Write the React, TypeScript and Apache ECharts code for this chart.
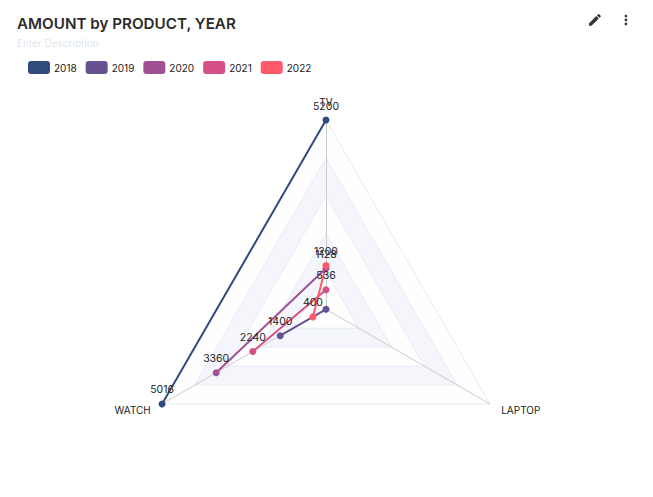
import React, { useEffect, useRef } from "react";
import * as echarts from "echarts";

const title = "AMOUNT by PRODUCT, YEAR";
const description = "Enter Description";
const indicators = ["TV", "WATCH", "LAPTOP"];
const indicatorMax = [5200, 5016, 5200];
const years = ["2018", "2019", "2020", "2021", "2022"];
const colors = ["#2f4b7c", "#665191", "#a05195", "#d45087", "#ff5a6a"];
const v2018 = [5200, 5016];
const v2019 = [0, 1400];
const v2020 = [1128, 3360];
const v2021 = [536, 2240];
const v2022 = [1200, 400];
const yearValues = [v2018, v2019, v2020, v2021, v2022];

const pencil = "M3 17.25V21h3.75L17.81 9.94l-3.75-3.75L3 17.25zM20.71 7.04c.39-.39.39-1.02 0-1.41l-2.34-2.34c-.39-.39-1.02-.39-1.41 0l-1.83 1.83 3.75 3.75 1.83-1.83z";
const dots = "M12 8c1.1 0 2-.9 2-2s-.9-2-2-2-2 .9-2 2 .9 2 2 2zm0 2c-1.1 0-2 .9-2 2s.9 2 2 2 2-.9 2-2-.9-2-2-2zm0 6c-1.1 0-2 .9-2 2s.9 2 2 2 2-.9 2-2-.9-2-2-2z";
echarts.graphic.registerShape("pencilIcon", echarts.graphic.extendPath(pencil as any, {}) as any);
echarts.graphic.registerShape("dotsIcon", echarts.graphic.extendPath(dots as any, {}) as any);

const font = "Inter, sans-serif";

export default function App() {
  const ref = useRef<HTMLDivElement>(null);
  useEffect(() => {
    const chart = echarts.init(ref.current!, null, { renderer: "svg" });
    chart.setOption({
      animation: false,
      title: {
        text: title,
        left: 17,
        top: 16,
        padding: 0,
        textStyle: { fontFamily: font, fontSize: 15.2, fontWeight: 600, color: "#2b2b2b" },
        subtext: description,
        subtextStyle: { fontFamily: font, fontSize: 10, color: "#e4e5ea" },
        itemGap: 7,
      },
      legend: {
        left: 28,
        top: 61,
        padding: 0,
        icon: "roundRect",
        itemWidth: 22,
        itemHeight: 13,
        itemGap: 9,
        itemStyle: { borderWidth: 0 },
        data: years,
        textStyle: { fontFamily: font, fontSize: 10, color: "#222", padding: [0, 0, 2, -1] },
      },
      radar: {
        center: [326, 309.3],
        radius: 189.3,
        splitNumber: 5,
        startAngle: 90,
        shape: "polygon",
        indicator: indicators.map((name, i) => ({ name, max: indicatorMax[i], min: 0 })),
        axisName: { fontFamily: font, fontSize: 10, color: "#222" },
        nameGap: 13,
        axisLine: { lineStyle: { color: "#cccccc", width: 1 } },
        splitLine: { lineStyle: { color: "#e8ebf5", width: 1 } },
        splitArea: { areaStyle: { color: ["#fefefe", "#f5f6fb", "#fefefe", "#f5f6fb", "#fefefe"] } },
      },
      series: years.map((y, i) => ({
        type: "radar",
        name: y,
        symbol: "circle",
        symbolSize: 7,
        itemStyle: { color: colors[i] },
        lineStyle: { color: colors[i], width: 2 },
        label: {
          show: true,
          position: "top",
          distance: 5,
          fontFamily: font,
          fontSize: 10.5,
          color: "#222",
          formatter: (p: any) => (p.value ? String(p.value) : ""),
        },
        data: [{ name: y, value: yearValues[i] }],
      })),
      graphic: [
        { type: "pencilIcon", x: 587, y: 12, scaleX: 0.66, scaleY: 0.66, style: { fill: "#333" } },
        { type: "dotsIcon", x: 618, y: 12, scaleX: 0.66, scaleY: 0.66, style: { fill: "#333" } },
      ],
    });
    return () => chart.dispose();
  }, []);
  return <div ref={ref} style={{ position: "absolute", left: 0, top: 0, width: 653, height: 497 }} />;
}
